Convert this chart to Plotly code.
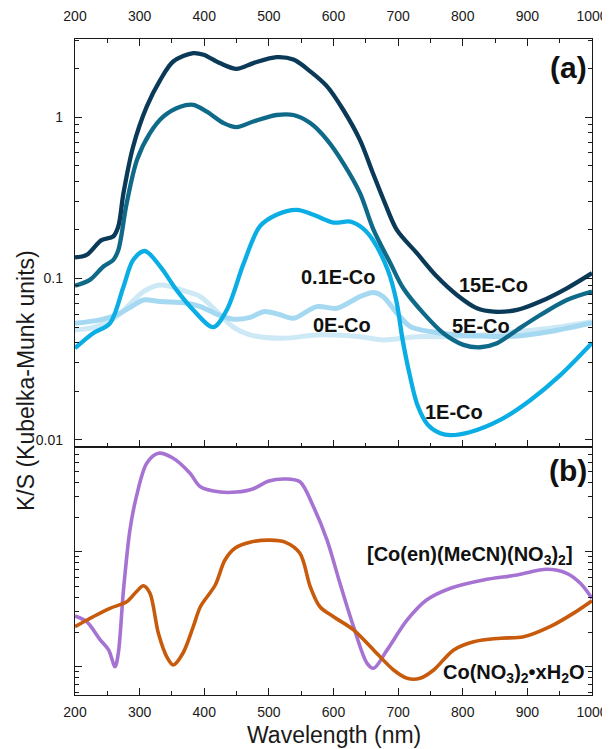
import plotly.graph_objects as go

# ---------------- data: panel (a) ----------------
wl_15E = [200, 218, 241, 259, 267, 275, 290, 311, 332, 352, 383, 399, 424, 450, 476, 512, 538, 564, 590, 615, 641, 660, 680, 698, 729, 760, 791, 822, 848, 884, 920, 961, 1000]
ks_15E = [0.135, 0.140, 0.173, 0.182, 0.210, 0.338, 0.657, 1.16, 1.70, 2.21, 2.49, 2.43, 2.16, 1.99, 2.16, 2.35, 2.27, 1.92, 1.55, 1.11, 0.72, 0.46, 0.29, 0.200, 0.1435, 0.1028, 0.0791, 0.0654, 0.0623, 0.0639, 0.072, 0.087, 0.108]

wl_5E = [200, 223, 244, 259, 267, 280, 296, 316, 337, 363, 383, 404, 430, 450, 476, 512, 538, 564, 590, 615, 641, 662, 688, 708, 739, 770, 801, 827, 853, 884, 920, 961, 1000]
ks_5E = [0.0903, 0.098, 0.1186, 0.130, 0.150, 0.293, 0.544, 0.796, 1.01, 1.16, 1.19, 1.08, 0.918, 0.867, 0.939, 1.03, 1.03, 0.918, 0.723, 0.519, 0.338, 0.200, 0.1244, 0.087, 0.061, 0.0458, 0.0388, 0.0375, 0.0397, 0.048, 0.0594, 0.0736, 0.083]

wl_1E = [200, 228, 254, 275, 290, 308, 332, 357, 383, 414, 435, 461, 486, 512, 543, 569, 600, 626, 645, 661, 684, 697, 707, 718, 730, 746, 765, 781, 812, 858, 905, 951, 1000]
ks_1E = [0.037, 0.0458, 0.0528, 0.089, 0.130, 0.148, 0.1186, 0.085, 0.0639, 0.050, 0.064, 0.124, 0.21, 0.248, 0.266, 0.248, 0.222, 0.225, 0.205, 0.173, 0.113, 0.0736, 0.0416, 0.0252, 0.0164, 0.0124, 0.0110, 0.0107, 0.0112, 0.0133, 0.0177, 0.0252, 0.0399]

wl_01E = [200, 239, 264, 290, 306, 332, 373, 394, 420, 445, 471, 492, 515, 538, 574, 605, 641, 662, 677, 698, 719, 750, 791, 832, 884, 935, 1000]
ks_01E = [0.0528, 0.0554, 0.0594, 0.068, 0.0736, 0.072, 0.0703, 0.067, 0.060, 0.056, 0.0575, 0.0623, 0.060, 0.0567, 0.067, 0.0654, 0.0772, 0.0818, 0.0772, 0.061, 0.0503, 0.0469, 0.0447, 0.044, 0.044, 0.0469, 0.053]

wl_0E = [200, 230, 264, 306, 332, 373, 394, 420, 445, 471, 523, 574, 641, 677, 729, 780, 832, 884, 935, 1000]
ks_0E = [0.048, 0.050, 0.0579, 0.083, 0.0912, 0.083, 0.0772, 0.062, 0.050, 0.0447, 0.0426, 0.0447, 0.0436, 0.0416, 0.0436, 0.0436, 0.0447, 0.0469, 0.0492, 0.054]

# ---------------- data: panel (b) (arbitrary log units) ----------------
wl_coen = [200, 218, 239, 252, 262, 267, 275, 285, 295, 311, 329, 352, 378, 394, 425, 450, 475, 500, 525, 548, 569, 590, 610, 631, 652, 662, 683, 714, 744, 781, 832, 884, 930, 961, 982, 1000]
ks_coen = [0.276, 0.246, 0.171, 0.140, 0.100, 0.131, 0.464, 1.545, 3.01, 5.87, 7.18, 6.49, 4.81, 3.67, 3.30, 3.30, 3.51, 4.12, 4.29, 4.06, 2.46, 1.26, 0.531, 0.223, 0.107, 0.0969, 0.140, 0.255, 0.380, 0.481, 0.568, 0.627, 0.703, 0.649, 0.531, 0.393]

wl_conit = [200, 228, 254, 280, 295, 306, 316, 329, 342, 352, 367, 383, 394, 417, 432, 448, 471, 502, 525, 548, 564, 579, 600, 631, 662, 693, 714, 734, 755, 786, 817, 858, 894, 935, 971, 1000]
ks_conit = [0.223, 0.272, 0.322, 0.367, 0.449, 0.506, 0.435, 0.195, 0.122, 0.1035, 0.131, 0.223, 0.332, 0.513, 0.847, 1.077, 1.21, 1.26, 1.21, 0.968, 0.496, 0.332, 0.272, 0.209, 0.140, 0.0936, 0.0793, 0.0793, 0.0936, 0.140, 0.165, 0.177, 0.182, 0.223, 0.291, 0.375]

x_ticks = [200, 300, 400, 500, 600, 700, 800, 900, 1000]
x_minor = [250, 350, 450, 550, 650, 750, 850, 950]
ya_ticks = [0.01, 0.1, 1]
ya_text = ["0.01", "0.1", "1"]

FONT = "Arial, Liberation Sans, sans-serif"
INK = "#1a1a1a"

fig = go.Figure()

def add(x, y, color, width, xa="x", ya="y"):
    fig.add_trace(go.Scatter(x=x, y=y, mode="lines", xaxis=xa, yaxis=ya,
                             line=dict(color=color, width=width, shape="spline", smoothing=0.9),
                             showlegend=False, hoverinfo="skip"))

add(wl_0E, ks_0E, "#cde9f6", 5)
add(wl_01E, ks_01E, "#a5d8f1", 5)
add(wl_1E, ks_1E, "#0aaee4", 4.3)
add(wl_5E, ks_5E, "#0f6a89", 4.3)
add(wl_15E, ks_15E, "#0a3a58", 4.3)
add(wl_coen, ks_coen, "#a673d2", 3.6, "x2", "y2")
add(wl_conit, ks_conit, "#c85a0c", 3.6, "x2", "y2")

minor_a = [k * 10 ** e for e in (-3, -2, -1, 0) for k in range(2, 10)]
minor_b = [k * 10 ** e for e in (-2, -1, 0) for k in range(2, 10)]

axis_common = dict(showline=True, linecolor=INK, linewidth=1.3, ticks="inside",
                   tickcolor=INK, tickwidth=1.3, ticklen=7, showgrid=False, zeroline=False,
                   automargin=False,
                   tickfont=dict(family=FONT, size=14, color=INK))

# page body adds an 8px offset, so the figure is 8px smaller than the window
fig.update_layout(
    width=602, height=741,
    margin=dict(l=67, r=18, t=31, b=54),
    paper_bgcolor="white", plot_bgcolor="white",
    xaxis=dict(**axis_common, range=[200, 1000], side="top", anchor="y", mirror="ticks",
               tickvals=x_ticks, ticklabelstandoff=11,
               minor=dict(tickvals=x_minor, ticks="inside", ticklen=4, tickcolor=INK, tickwidth=1.3)),
    yaxis=dict(**axis_common, type="log", range=[-2.044, 0.4836], domain=[0.378, 1], anchor="x",
               mirror="ticks", tickvals=ya_ticks, ticktext=ya_text, ticklabelstandoff=8,
               minor=dict(tickvals=minor_a, ticks="inside", ticklen=4, tickcolor=INK, tickwidth=1.3)),
    xaxis2=dict(**axis_common, range=[200, 1000], anchor="y2", matches="x", mirror=True,
                tickvals=x_ticks, ticklabelstandoff=4,
                minor=dict(tickvals=x_minor, ticks="inside", ticklen=4, tickcolor=INK, tickwidth=1.3)),
    yaxis2=dict(**axis_common, type="log", range=[-1.246, 0.910], domain=[0, 0.378], anchor="x2",
                mirror="ticks", tickvals=[0.1, 1], showticklabels=False,
                minor=dict(tickvals=minor_b, ticks="inside", ticklen=4, tickcolor=INK, tickwidth=1.3)),
)

def note(text, x, y, xref="x", yref="y", size=20, xanchor="center", bold=True):
    fig.add_annotation(text=(f"<b>{text}</b>" if bold else text), x=x, y=y, xref=xref, yref=yref,
                       showarrow=False, xanchor=xanchor, yanchor="middle",
                       font=dict(family=FONT, size=size, color="#111"))

note("15E-Co", 847, -1.039)
note("5E-Co", 829, -1.292)
note("0.1E-Co", 607, -0.988)
note("0E-Co", 613, -1.288)
note("1E-Co", 787, -1.825)
note("(a)", 995, 0.306, size=30, xanchor="right")
note("(b)", 995, 0.710, xref="x2", yref="y2", size=30, xanchor="right")
note("[Co(en)(MeCN)(NO<sub>3</sub>)<sub>2</sub>]", 811, -0.029, xref="x2", yref="y2")
note("Co(NO<sub>3</sub>)<sub>2</sub>•xH<sub>2</sub>O", 880, -1.055, xref="x2", yref="y2")

fig.add_annotation(text="K/S (Kubelka-Munk units)", x=(18 - 67) / 517, y=(687 - 373) / 656,
                   xref="paper", yref="paper", showarrow=False, textangle=-90,
                   xanchor="center", yanchor="middle", font=dict(family=FONT, size=23, color=INK))
fig.add_annotation(text="Wavelength (nm)", x=0.5, y=(687 - 727) / 656,
                   xref="paper", yref="paper", showarrow=False,
                   xanchor="center", yanchor="middle", font=dict(family=FONT, size=23, color=INK))

fig.write_html("out.html")
